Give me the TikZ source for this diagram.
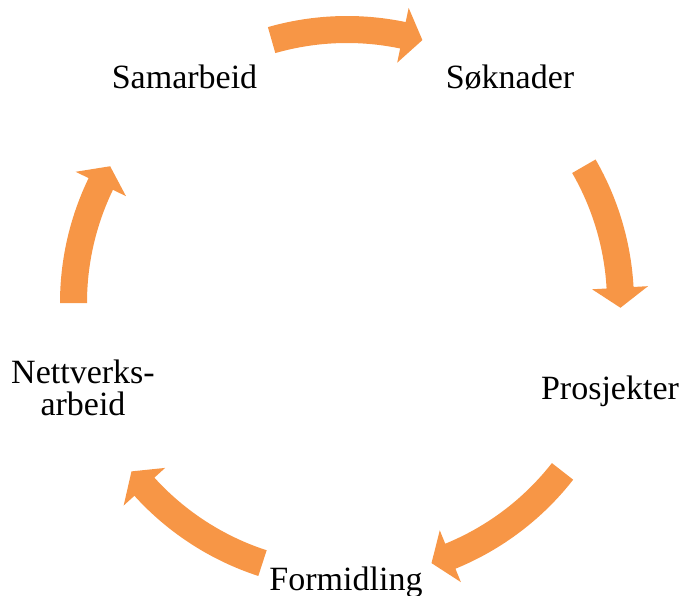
\documentclass[tikz,border=0pt]{standalone}
\usepackage{fontspec}
\setmainfont{Liberation Serif}
\usetikzlibrary{calc}
\definecolor{arroworange}{HTML}{F79646}
\tikzset{
  lbl/.style={inner sep=0pt, font=\fontsize{34}{32}\selectfont, text=black},
  cyc/.style={fill=arroworange, draw=none}
}
\newcommand{\cycarrow}[2]{%
  \pgfmathsetmacro{\cbase}{#2+4.2}%
  \fill[cyc] ($(C)+(#1:287pt)$) arc[start angle=#1, end angle=\cbase, radius=287pt]
    -- ($(C)+(\cbase:301.5pt)$) -- ($(C)+(#2:273.5pt)$) -- ($(C)+(\cbase:245.5pt)$)
    -- ($(C)+(\cbase:260pt)$) arc[start angle=\cbase, end angle=#1, radius=260pt] -- cycle;%
}
\begin{document}
\begin{tikzpicture}[x=1pt,y=1pt]
\useasboundingbox (0,0) rectangle (682,595);
\coordinate (C) at (347,292);
\cycarrow{106}{74}
\cycarrow{30}{-1}
\cycarrow{-38}{-72}
\cycarrow{-108}{-142}
\cycarrow{180}{150}
\node[lbl, anchor=base] (samarbeid) at (184.5,506.7) {Samarbeid};
\node[lbl, anchor=base] (soknader) at (510,506.7) {Søknader};
\node[lbl, anchor=base] (prosjekter) at (610,195.5) {Prosjekter};
\node[lbl, anchor=base] (formidling) at (346,4.3) {Formidling};
\node[lbl, anchor=base, align=center] (nettverk) at (83,180) {Nettverks-\\arbeid};
\end{tikzpicture}
\end{document}
